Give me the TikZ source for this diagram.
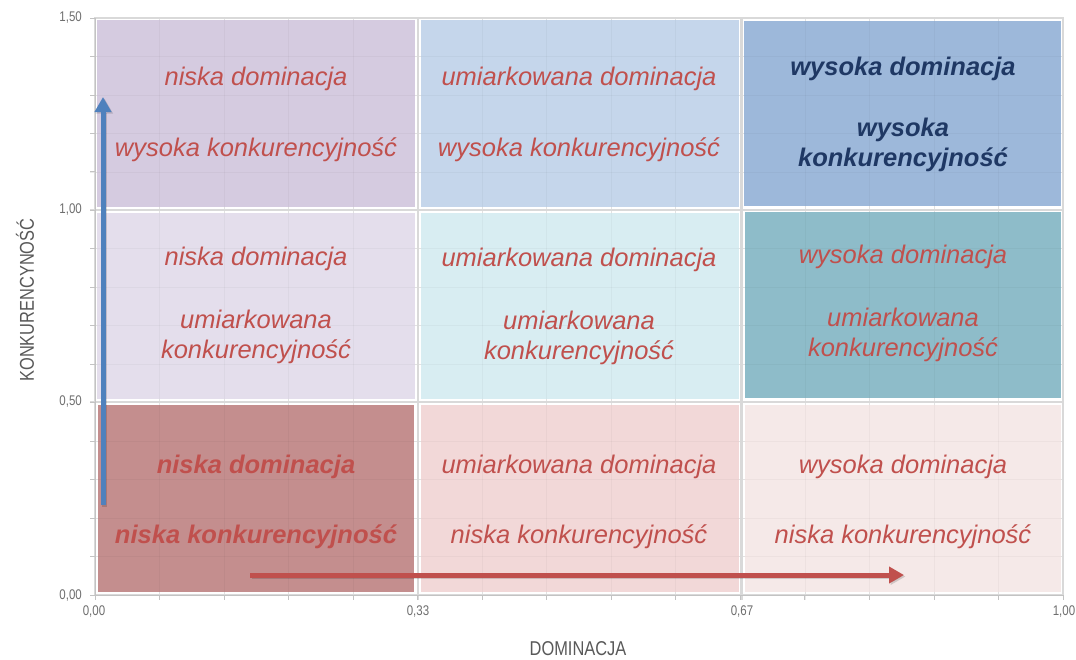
\documentclass[tikz,border=0pt]{standalone}
\usepackage{fontspec}
\setmainfont{Liberation Sans}
\newfontfamily\narrowfont[FakeStretch=0.82]{Liberation Sans}
\usetikzlibrary{arrows.meta}
\definecolor{txtred}{HTML}{C0504D}
\definecolor{txtblue}{HTML}{1F3864}
\definecolor{arrblue}{HTML}{4F81BD}
\definecolor{arrred}{HTML}{C0504D}
\definecolor{axisgray}{HTML}{595959}
\definecolor{ticklbl}{HTML}{6E6E6E}
\definecolor{gridgray}{HTML}{D9D9D9}
\definecolor{cTL}{HTML}{D5CBE0}
\definecolor{cTM}{HTML}{C5D6EB}
\definecolor{cTR}{HTML}{9DB8DA}
\definecolor{cML}{HTML}{E4DEEC}
\definecolor{cMM}{HTML}{D8EDF2}
\definecolor{cMR}{HTML}{8EBCC9}
\definecolor{cBL}{HTML}{C48E8E}
\definecolor{cBM}{HTML}{F2D8D8}
\definecolor{cBR}{HTML}{F5E9E8}
\tikzset{
  lbl/.style={font=\fontsize{25.5}{30}\selectfont\itshape, text=txtred, align=center, inner sep=0pt},
  lblb/.style={lbl, font=\fontsize{25.5}{30}\selectfont\itshape\bfseries},
  tick/.style={font=\narrowfont\fontsize{14}{16}\selectfont, text=ticklbl, inner sep=0pt},
  axislbl/.style={font=\narrowfont\fontsize{20}{24}\selectfont, text=axisgray, inner sep=0pt},
  bigarrow/.style={line width=5pt, -{Triangle[length=15pt,width=16pt]}}
}
\begin{document}
\begin{tikzpicture}[x=1pt,y=-1pt]
\useasboundingbox[fill=white] (0,0) rectangle (1076,659);
% minor grid
\foreach \i in {1,...,14} {
  \draw[gridgray!55, line width=0.7pt] ({95+\i*968/15},18) -- ({95+\i*968/15},600);
  \draw[gridgray!55, line width=0.7pt] (90,{595-\i*577/15}) -- (1063,{595-\i*577/15});
}
% cells
\fill[cTL] (97,20) rectangle (415,207);
\fill[cTM] (421,20) rectangle (739,207);
\fill[cTR] (744,21) rectangle (1061,206);
\fill[cML] (97,213) rectangle (415,399);
\fill[cMM] (421,213) rectangle (739,399);
\fill[cMR] (745,212) rectangle (1061,398);
\fill[cBL] (98,405) rectangle (414,592);
\fill[cBM] (421,405) rectangle (739,592);
\fill[cBR] (745,405) rectangle (1061,592);
% faint grid over cells
\foreach \i in {1,...,14} {
  \draw[black, opacity=0.03, line width=0.7pt] ({95+\i*968/15},18) -- ({95+\i*968/15},595);
  \draw[black, opacity=0.03, line width=0.7pt] (95,{595-\i*577/15}) -- (1063,{595-\i*577/15});
}
% major grid lines
\draw[gridgray, line width=2.5pt] (418,18) -- (418,600);
\draw[gridgray, line width=2.5pt] (741.5,18) -- (741.5,600);
\draw[gridgray, line width=2.5pt] (90,402) -- (1063,402);
\draw[gridgray, line width=2.5pt] (90,210) -- (1063,210);
% frame
\draw[gridgray, line width=1.5pt] (95,18) rectangle (1063,595);
\draw[gridgray!90!black, line width=1pt] (95,18) -- (95,595) -- (1063,595);
% ticks
\foreach \i in {0,...,15} {
  \draw[gridgray!90!black, line width=0.8pt] ({95+\i*968/15},595) -- ({95+\i*968/15},600);
  \draw[gridgray!90!black, line width=0.8pt] (90,{595-\i*577/15}) -- (95,{595-\i*577/15});
}
% tick labels
\node[tick, anchor=east] (y0) at (82,595) {0,00};
\node[tick, anchor=east] (y1) at (82,402) {0,50};
\node[tick, anchor=east] (y2) at (82,210) {1,00};
\node[tick, anchor=east] (y3) at (82,18) {1,50};
\node[tick] (x0) at (94,611) {0,00};
\node[tick] (x1) at (418,611) {0,33};
\node[tick] (x2) at (742,611) {0,67};
\node[tick] (x3) at (1064,611) {1,00};
% axis labels
\node[axislbl] (xl) at (578,649) {DOMINACJA};
\node[axislbl, rotate=90] (yl) at (25,300) {KONKURENCYNOŚĆ};
% cell texts
\node[lbl] (tl1) at (256,79) {niska dominacja};
\node[lbl] (tl2) at (256,150) {wysoka konkurencyjność};
\node[lbl] (tm1) at (579,79) {umiarkowana dominacja};
\node[lbl] (tm2) at (579,150) {wysoka konkurencyjność};
\node[lblb, text=txtblue] (tr1) at (903,69) {wysoka dominacja};
\node[lblb, text=txtblue] (tr2) at (903,145) {wysoka\\konkurencyjność};
\node[lbl] (ml1) at (256,259) {niska dominacja};
\node[lbl] (ml2) at (256,337) {umiarkowana\\konkurencyjność};
\node[lbl] (mm1) at (579,260) {umiarkowana dominacja};
\node[lbl] (mm2) at (579,338) {umiarkowana\\konkurencyjność};
\node[lbl] (mr1) at (903,257) {wysoka dominacja};
\node[lbl] (mr2) at (903,335) {umiarkowana\\konkurencyjność};
\node[lblb] (bl1) at (256,467) {niska dominacja};
\node[lblb] (bl2) at (256,537) {niska konkurencyjność};
\node[lbl] (bm1) at (579,467) {umiarkowana dominacja};
\node[lbl] (bm2) at (579,537) {niska konkurencyjność};
\node[lbl] (br1) at (903,467) {wysoka dominacja};
\node[lbl] (br2) at (903,537) {niska konkurencyjność};
% arrows
\coordinate (va) at (103,505);
\coordinate (vb) at (103,97);
\coordinate (ha) at (250,575);
\coordinate (hb) at (904,575);
\draw[bigarrow, black, opacity=0.15] ([shift={(1.5,1.5)}]va) -- ([shift={(1.5,1.5)}]vb);
\draw[bigarrow, black, opacity=0.15] ([shift={(1.5,1.5)}]ha) -- ([shift={(1.5,1.5)}]hb);
\draw[bigarrow, arrblue] (va) -- (vb);
\draw[bigarrow, arrred] (ha) -- (hb);
\end{tikzpicture}
\end{document}
